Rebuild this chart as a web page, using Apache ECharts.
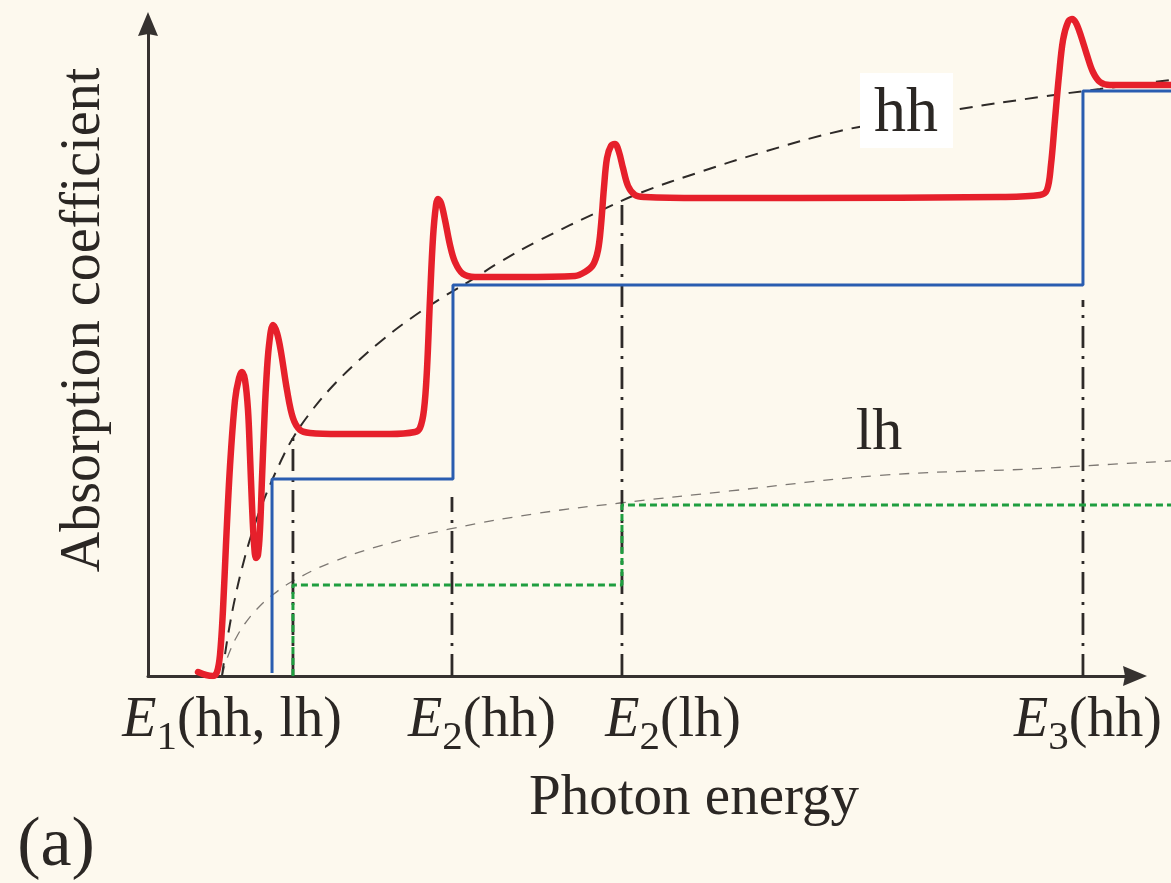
<!DOCTYPE html>
<html>
<head>
<meta charset="utf-8">
<script src="https://cdn.jsdelivr.net/npm/echarts@6/dist/echarts.min.js"></script>
<style>
html,body{margin:0;padding:0;background:#fdf9ee;}
#chart{width:1171px;height:883px;}
</style>
</head>
<body>
<div id="chart"></div>
<script>
// ---- data (photon energy / absorption, arbitrary units) ----
// visible axes (with arrows) and the full plotting range (marks run off the right edge)
const axisXMax = 99;
const axisYMax = 98.5;
const plotXMax = 102.61;
const plotYMax = 102.11;

// tick labels: E_n(band), placed at their label centres
const tickPos = [8.43, 33.5, 52.66, 94.28];
const tickMain = ['E', 'E', 'E', 'E'];
const tickSub = ['1', '2', '2', '3'];
const tickSuffix = ['(hh, lh)', '(hh)', '(lh)', '(hh)'];

// excitonic absorption (red)
const redX = [5.02,5.82,6.52,6.92,7.22,7.52,7.82,8.22,8.73,9.13,9.43,9.73,10.03,10.23,10.43,10.63,10.83,11.03,11.23,11.43,11.63,11.84,12.14,12.54,12.94,13.34,13.94,14.54,15.25,16.25,19.26,24.27,26.78,27.28,27.68,27.98,28.28,28.59,28.89,29.09,29.39,29.79,30.29,30.79,31.59,32.80,37.31,42.83,43.83,44.63,45.14,45.44,45.74,46.04,46.44,46.84,47.24,47.64,48.15,48.85,49.85,55.37,65.40,85.46,89.47,90.17,90.57,90.97,91.38,91.78,92.28,92.68,93.08,93.58,94.18,94.78,95.49,96.49,102.61];
const redY = [0.60,0.15,0,0.60,3.17,9.97,19.79,31.57,41.69,45.02,45.92,44.71,40.18,33.38,25.83,20.09,17.82,18.28,22.05,29.61,37.16,43.96,50.00,53.02,51.81,48.94,43.20,38.97,37.16,36.71,36.56,36.56,36.86,37.46,40.18,46.22,56.80,66.31,71.15,72.05,71.45,68.88,65.11,62.54,60.73,60.27,60.27,60.42,61.03,62.08,64.35,68.13,73.87,78.25,80.06,80.36,79.15,76.74,74.02,72.66,72.36,72.21,72.21,72.36,72.66,73.41,77.19,83.99,90.79,96.07,98.79,99.24,98.64,96.68,93.81,91.24,89.73,89.27,89.27];

// heavy-hole step density (blue)
const hhStepX = [12.44, 12.44, 30.59, 30.59, 93.78, 93.78, 102.61];
const hhStepY = [0.45, 29.76, 29.76, 59.06, 59.06, 88.37, 88.37];

// light-hole step density (green)
const lhStepX = [14.54, 14.54, 47.54, 47.54, 102.61];
const lhStepY = [0, 13.75, 13.75, 25.83, 25.83];

// bulk-like envelope curves
const hhCurveX = [7.42,7.82,8.22,8.73,9.43,10.43,11.74,13.24,14.54,16.25,18.25,20.76,23.27,26.28,29.29,32.30,35.31,39.32,45.34,49.35,55.37,61.38,69.41,75.43,81.44,89.47,95.49,102.61];
const hhCurveY = [0,4.23,7.85,11.78,16.31,21.60,27.04,32.18,35.95,39.73,43.35,47.13,50.45,53.93,56.95,59.67,62.54,65.86,70.24,72.96,76.13,79.00,82.33,83.99,85.65,87.46,88.67,90.03];
const lhCurveX = [7.42,7.82,8.22,8.83,9.73,11.03,12.54,14.54,18.25,23.27,30.29,39.32,47.34,58.38,73.42,88.47,93.58,102.61];
const lhCurveY = [0,2.11,3.78,5.74,7.93,10.27,12.30,14.35,17.07,19.64,22.21,24.62,26.13,27.95,30.30,31.27,31.72,32.48];

// transition-energy drop lines (dash-dot)
const dropX = [14.54, 30.49, 47.54, 93.78];
const dropTop = [36.6, 27.04, 71.15, 56.8];

// ---- build ----
const zip = (xs, ys) => xs.map((x, i) => [x, ys[i]]);
const SERIF = "'Liberation Serif','DejaVu Serif',serif";
const TXT = '#2b2724';
const ARROW = 'path://M5,0 L10,12 L5,11 L0,12 Z';
const onData = { xAxisIndex: 1, yAxisIndex: 1 };

const dropSeries = dropX.map((x, i) => Object.assign({
  type: 'line', data: [[x, 0], [x, dropTop[i]]], symbol: 'none', silent: true, z: 3,
  lineStyle: { color: '#2e2a28', width: 2.8, type: [22, 8, 3, 8] }
}, onData));

const option = {
  backgroundColor: '#fdf9ee',
  animation: false,
  grid: [
    { left: 148, top: 24, right: 36, bottom: 207 },
    { left: 148, top: 0, right: 0, bottom: 207 }
  ],
  xAxis: [{
    gridIndex: 0, type: 'value', min: 0, max: axisXMax,
    axisLine: { show: true, onZero: false, symbol: ['none', ARROW], symbolSize: [21, 24],
      lineStyle: { color: '#363230', width: 3 } },
    axisTick: { show: false },
    splitLine: { show: false },
    axisLabel: {
      customValues: tickPos,
      margin: 8,
      formatter: function (v) {
        const i = tickPos.findIndex(p => Math.abs(p - v) < 1e-6);
        if (i < 0) return '';
        return '{e|' + tickMain[i] + '}{s|' + tickSub[i] + '}{t|' + tickSuffix[i] + '}';
      },
      rich: {
        e: { fontFamily: SERIF, fontSize: 56, fontStyle: 'italic', color: TXT },
        s: { fontFamily: SERIF, fontSize: 41, color: TXT, padding: [34, 0, 0, 0] },
        t: { fontFamily: SERIF, fontSize: 56, color: TXT }
      }
    }
  }, {
    gridIndex: 1, type: 'value', min: 0, max: plotXMax, show: false
  }],
  yAxis: [{
    gridIndex: 0, type: 'value', min: 0, max: axisYMax,
    axisLine: { show: true, onZero: false, symbol: ['none', ARROW], symbolSize: [21, 24],
      lineStyle: { color: '#363230', width: 3 } },
    axisTick: { show: false },
    splitLine: { show: false },
    axisLabel: { show: false }
  }, {
    gridIndex: 1, type: 'value', min: 0, max: plotYMax, show: false
  }],
  series: [
    Object.assign({ type: 'line', data: zip(lhCurveX, lhCurveY), smooth: 0.4, symbol: 'none', silent: true, z: 1,
      lineStyle: { color: '#7d7873', width: 1.3, type: [10, 9] } }, onData),
    Object.assign({ type: 'line', data: zip(hhCurveX, hhCurveY), smooth: 0.4, symbol: 'none', silent: true, z: 2,
      lineStyle: { color: '#2e2a28', width: 2, type: [13, 9] } }, onData),
    ...dropSeries,
    Object.assign({ type: 'line', data: zip(lhStepX, lhStepY), symbol: 'none', silent: true, z: 4,
      lineStyle: { color: '#1f9e3f', width: 3, type: [7, 4] } }, onData),
    Object.assign({ type: 'line', data: zip(hhStepX, hhStepY), symbol: 'none', silent: true, z: 5,
      lineStyle: { color: '#2a5db0', width: 3 } }, onData),
    Object.assign({ type: 'line', data: zip(redX, redY), smooth: 0.35, symbol: 'none', silent: true, z: 6,
      lineStyle: { color: '#e6202b', width: 6.5, cap: 'round', join: 'round' } }, onData)
  ],
  graphic: [
    { type: 'rect', z: 100, shape: { x: 860, y: 73, width: 93, height: 75 }, style: { fill: '#ffffff' } },
    { type: 'text', z: 101, x: 906, y: 114, style: { text: 'hh', font: "64px " + SERIF, fill: TXT, align: 'center', verticalAlign: 'middle' } },
    { type: 'text', z: 101, x: 879, y: 433, style: { text: 'lh', font: "60px " + SERIF, fill: TXT, align: 'center', verticalAlign: 'middle' } },
    { type: 'text', z: 101, x: 694, y: 799, style: { text: 'Photon energy', font: "57px " + SERIF, fill: TXT, align: 'center', verticalAlign: 'middle' } },
    { type: 'text', z: 101, x: 84, y: 320, rotation: Math.PI / 2, style: { text: 'Absorption coefficient', font: "56px " + SERIF, fill: TXT, align: 'center', verticalAlign: 'middle' } },
    { type: 'text', z: 101, x: 56, y: 847, style: { text: '(a)', font: "70px " + SERIF, fill: TXT, align: 'center', verticalAlign: 'middle' } }
  ]
};

const chart = echarts.init(document.getElementById('chart'), null, { renderer: 'canvas' });
chart.setOption(option);
</script>
</body>
</html>
